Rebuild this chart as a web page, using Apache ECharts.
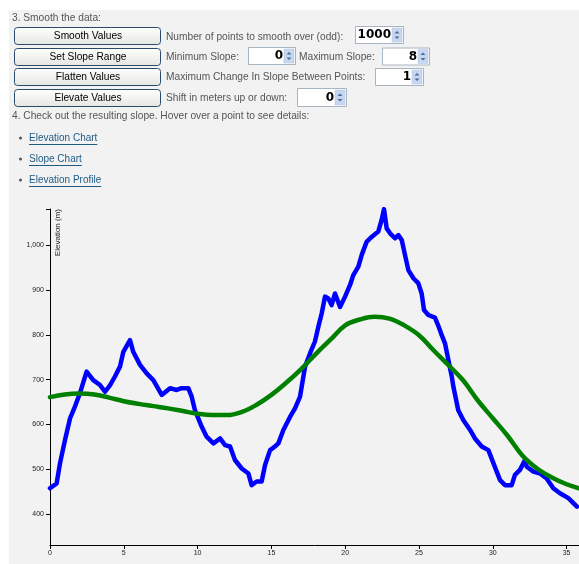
<!DOCTYPE html>
<html>
<head>
<meta charset="utf-8">
<script src="https://cdn.jsdelivr.net/npm/echarts@6/dist/echarts.min.js"></script>
<style>
html,body{margin:0;padding:0;background:#fff;}
#c{width:579px;height:564px;}
</style>
</head>
<body>
<div id="c"></div>
<script>
// ---- data (distance km, elevation m) ----
const elevX = [0,0.45,0.68,1.02,1.36,1.69,2.03,2.48,2.93,3.39,3.73,4.07,4.40,4.74,4.97,5.42,5.64,6.10,6.55,7.0,7.57,8.13,8.58,8.92,9.37,9.6,9.82,10.28,10.61,11.07,11.52,11.86,12.2,12.53,12.99,13.44,13.66,14.0,14.34,14.57,14.91,15.24,15.47,15.81,16.26,16.6,16.94,17.28,17.62,17.95,18.18,18.41,18.63,18.86,19.08,19.31,19.65,19.99,20.33,20.55,20.89,21.12,21.45,21.79,22.24,22.47,22.63,22.81,23.04,23.37,23.6,23.83,24.05,24.28,24.62,24.95,25.18,25.34,25.63,26.08,26.31,26.54,26.76,26.99,27.22,27.33,27.66,28.0,28.46,28.79,29.25,29.7,30.04,30.49,30.83,31.28,31.5,31.84,32.18,32.3,32.75,33.2,33.65,34.1,34.55,35.12,35.7];
const elevY = [458,469,514,566,614,640,670,718,699,688,673,688,707,729,762,788,762,733,714,699,666,681,677,681,681,662,632,595,573,558,569,554,551,521,502,491,465,473,473,510,543,551,558,588,617,636,662,729,759,785,818,848,885,881,866,892,862,885,911,933,952,978,1007,1018,1030,1056,1080,1037,1026,1015,1022,1011,978,944,926,915,892,855,844,838,820,799,781,744,707,684,632,610,588,569,551,543,514,476,465,465,488,499,521,506,495,491,480,458,447,436,417];
const smoothX = [0,1,2,3,4,5,6,7,8,9,10,11,12,13,14,15,16,17,18,19,20,21,22,23,24,25,26,27,28,29,30,31,32,33,34,35,35.84];
const smoothY = [661,667,669,667,660,652,646,641,636,630,624,621,621,628,644,666,693,723,757,789,821,834,840,836,821,799,765,732,698,653,614,575,531,502,482,467,458];
const yTicks = [400,500,600,700,800,900,1000];
const xTicks = [0,5,10,15,20,25,30,35];

// ---- form content ----
const buttons = ['Smooth Values','Set Slope Range','Flatten Values','Elevate Values'];
const links = ['Elevation Chart','Slope Chart','Elevation Profile'];

const FONT = '"Liberation Sans", Arial, sans-serif';
const els = [];
// white page margins
els.push({type:'rect', shape:{x:0,y:0,width:579,height:10}, style:{fill:'#ffffff'}, z:-10});
els.push({type:'rect', shape:{x:0,y:0,width:9,height:564}, style:{fill:'#ffffff'}, z:-10});

function txt(t, x, y, opts) {
  opts = opts || {};
  els.push({type:'text', z: 5, x: x, y: y, rotation: opts.rotation || 0, style:{
    text: t, fill: opts.fill || '#555555', fontSize: opts.size || 10.2, fontFamily: opts.family || FONT,
    fontWeight: opts.weight || 'normal',
    textAlign: opts.align || 'left', textVerticalAlign: 'middle'}});
}
txt('3. Smooth the data:', 12, 18);
const btnY = [27, 48, 68, 89];
buttons.forEach((b, i) => {
  els.push({type:'rect', z:4, shape:{x:14.5, y:btnY[i]+0.5, width:146, height:17, r:3},
    style:{fill:{type:'linear',x:0,y:0,x2:0,y2:1,colorStops:[{offset:0,color:'#ffffff'},{offset:1,color:'#e6e6e0'}]},
    stroke:'#2a4a6a', lineWidth:1}});
  txt(b, 88, btnY[i]+9, {fill:'#000000', align:'center'});
});
txt('Number of points to smooth over (odd):', 166, 37);
txt('Minimum Slope:', 166, 57);
txt('Maximum Slope:', 299, 57);
txt('Maximum Change In Slope Between Points:', 166, 77);
txt('Shift in meters up or down:', 166, 98);
txt('4. Check out the resulting slope. Hover over a point to see details:', 12, 116.5);

const inputs = [
  {x:355, y:26, w:48, h:17, v:'1000'},
  {x:248, y:47, w:47, h:17, v:'0'},
  {x:382, y:47.5, w:47, h:17, v:'8'},
  {x:375, y:68, w:48, h:17, v:'1'},
  {x:297, y:88, w:49, h:18, v:'0'}
];
inputs.forEach(inp => {
  els.push({type:'rect', z:4, shape:{x:inp.x+0.5, y:inp.y+0.5, width:inp.w, height:inp.h},
    style:{fill:'#ffffff', stroke:'#a8b4c0', lineWidth:1}});
  const sx = inp.x + inp.w - 11, sy = inp.y + 2;
  els.push({type:'rect', z:5, shape:{x:sx, y:sy, width:10, height:inp.h-3},
    style:{fill:'#c8d7f0', stroke:'#b0c2e0', lineWidth:0.5}});
  const cx = sx + 5, my = sy + (inp.h-3)/2;
  els.push({type:'polygon', z:6, shape:{points:[[cx-2.5,my-1.5],[cx+2.5,my-1.5],[cx,my-4]]}, style:{fill:'#4a6a9a'}});
  els.push({type:'polygon', z:6, shape:{points:[[cx-2.5,my+1.5],[cx+2.5,my+1.5],[cx,my+4]]}, style:{fill:'#4a6a9a'}});
  txt(inp.v, sx - 1, inp.y + inp.h/2 + 0.5, {fill:'#000000', align:'right', weight:'bold', size:12, family:'"DejaVu Sans", sans-serif'});
});

const linkY = [138, 159, 180];
const meas = document.createElement('canvas').getContext('2d');
meas.font = '10px "Liberation Sans", Arial, sans-serif';
links.forEach((l, i) => {
  els.push({type:'rect', z:5, shape:{x:19, y:linkY[i]-1.5, width:3, height:3, r:1.5}, style:{fill:'#555555'}});
  txt(l, 29, linkY[i], {fill:'#1f5a84', size:10});
  const w = meas.measureText(l).width;
  els.push({type:'line', z:5, shape:{x1:29, y1:linkY[i]+6.5, x2:29+w, y2:linkY[i]+6.5}, style:{stroke:'#1f5a84', lineWidth:1}});
});

// y-axis name
txt('Elevation (m)', 58, 209, {fill:'#222222', align:'right', size:8, rotation:Math.PI/2});

const chart = echarts.init(document.getElementById('c'), null, {renderer:'canvas'});
chart.setOption({
  backgroundColor: '#f2f2f2',
  animation: false,
  grid: {left:50, top:209, right:0, bottom:19, containLabel:false},
  xAxis: {
    type:'value', min:0, max:35.84,
    axisLine:{show:true, onZero:false, lineStyle:{color:'#000', width:1}},
    axisTick:{show:true, length:4, lineStyle:{color:'#000'}, customValues: xTicks},
    axisLabel:{color:'#222', fontSize:7, fontFamily:FONT, margin:5, customValues: xTicks},
    splitLine:{show:false}
  },
  yAxis: {
    type:'value', min:331.6, max:1080.2,
    axisLine:{show:true, lineStyle:{color:'#000', width:1}},
    axisTick:{show:true, length:4, lineStyle:{color:'#000'}, customValues: yTicks.concat([1080.2])},
    axisLabel:{color:'#222', fontSize:7, fontFamily:FONT, margin:6, customValues: yTicks,
      formatter: v => Number(v).toLocaleString('en-US')},
    splitLine:{show:false}
  },
  graphic: {elements: els},
  series: [
    {type:'line', data: elevX.map((x,i)=>[x, elevY[i]]), showSymbol:false, smooth:false,
      lineStyle:{color:'#0000ff', width:4.5, join:'round', cap:'round'}, itemStyle:{color:'#0000ff'}, z:2},
    {type:'line', data: smoothX.map((x,i)=>[x, smoothY[i]]), showSymbol:false, smooth:0.4,
      lineStyle:{color:'#008000', width:4.5, cap:'round'}, itemStyle:{color:'#008000'}, z:3}
  ]
});
</script>
</body>
</html>
